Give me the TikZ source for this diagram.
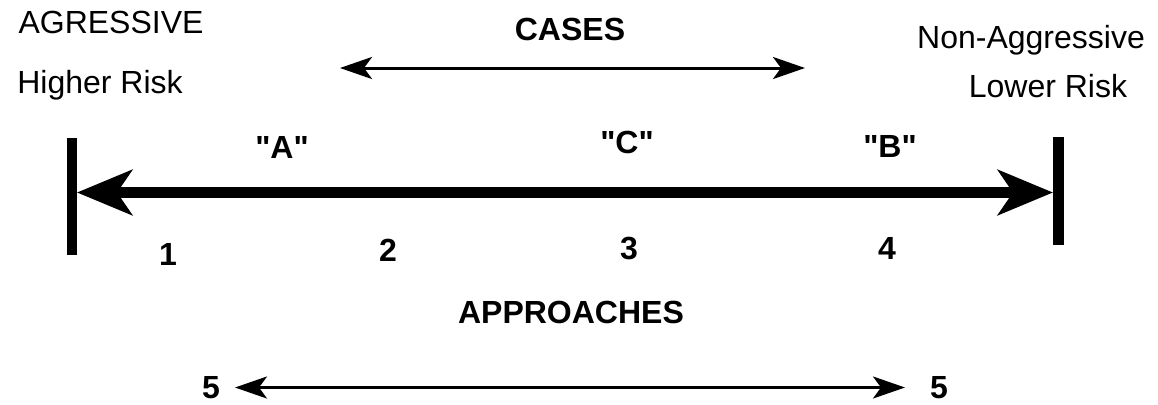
\documentclass[tikz,border=0pt]{standalone}
\usepackage{fontspec}
\setmainfont{Liberation Sans}[Ligatures=TeXOff]
\usetikzlibrary{arrows.meta}
\begin{document}
\begin{tikzpicture}[x=0.5pt,y=-0.5pt,
  lbl/.style={anchor=base,inner sep=0pt,font=\fontsize{16}{19}\selectfont},
  blbl/.style={lbl,font=\fontsize{16}{19}\selectfont\bfseries},
  endbar/.style={line width=5.3pt},
  mainaxis/.style={line width=5.5pt,
    {Stealth[length=27.5pt,width=22.5pt,inset=7.5pt]}-{Stealth[length=27.5pt,width=22.5pt,inset=7.5pt]}},
  spanarrow/.style={line width=1.5pt,
    {Stealth[length=16pt,width=11pt,inset=4pt]}-{Stealth[length=16pt,width=11pt,inset=4pt]}}]
\useasboundingbox (0,0) rectangle (1158,404);

% end markers of the scale
\coordinate (lbarTop) at (72,138);
\coordinate (lbarBot) at (72,255);
\coordinate (rbarTop) at (1058.5,137);
\coordinate (rbarBot) at (1058.5,245);
\draw[endbar] (lbarTop) -- (lbarBot);
\draw[endbar] (rbarTop) -- (rbarBot);

% main scale arrow between the markers
\coordinate (scaleL) at (77,192.5);
\coordinate (scaleR) at (1053,192.5);
\draw[mainaxis] (scaleL) -- (scaleR);

% end labels
\node[lbl] (agr)  at (111,33) {AGRESSIVE};
\node[lbl] (hrisk) at (100,93) {Higher Risk};
\node[lbl] (nagr) at (1031,48) {Non-Aggressive};
\node[lbl] (lrisk) at (1048,97) {Lower Risk};

% cases
\node[blbl] (cases) at (570,40) {CASES};
\coordinate (casesL) at (340,68);
\coordinate (casesR) at (805,68);
\draw[spanarrow] (casesL) -- (casesR);

\node[blbl] (caseA) at (282,158) {"A"};
\node[blbl] (caseC) at (627,153) {"C"};
\node[blbl] (caseB) at (890,157) {"B"};

% approach numbers
\node[blbl] (ap1) at (168,265) {1};
\node[blbl] (ap2) at (388,261) {2};
\node[blbl] (ap3) at (629,259) {3};
\node[blbl] (ap4) at (887,259) {4};

\node[blbl] (approaches) at (571,323) {APPROACHES};

% approach 5 range
\node[blbl] (ap5L) at (211,398) {5};
\node[blbl] (ap5R) at (939,398) {5};
\coordinate (apL) at (235,387.5);
\coordinate (apR) at (905,387.5);
\draw[spanarrow] (apL) -- (apR);
\end{tikzpicture}
\end{document}
